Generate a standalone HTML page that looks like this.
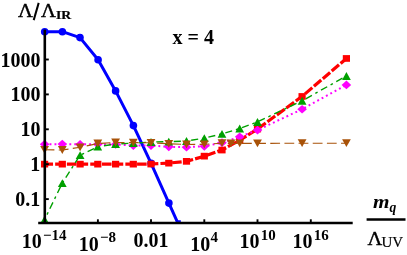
<!DOCTYPE html>
<html><head><meta charset="utf-8"><title>plot</title>
<style>html,body{margin:0;padding:0;background:#fff;width:407px;height:255px;overflow:hidden;font-family:"Liberation Serif",serif}#w{position:absolute;left:0;top:0;width:407px;height:255px;will-change:transform}svg{display:block}</style></head>
<body>
<div id="w">
<svg width="407" height="255" viewBox="0 0 407 255">
<rect width="407" height="255" fill="#fff"/>
<defs><clipPath id="cp"><rect x="38" y="20" width="320" height="203.5"/></clipPath></defs>
<g clip-path="url(#cp)">
<polyline points="44.7,31.7 62.4,31.7 80.0,37.6 98.1,59.7 115.6,90.9 133.4,125.6 151.1,163.4 168.9,203.1 186.7,242.8" fill="none" stroke="#0000ff" stroke-width="3" stroke-linejoin="round"/>
<circle cx="44.7" cy="31.7" r="3.8" fill="#0000ff"/><circle cx="62.4" cy="31.7" r="3.8" fill="#0000ff"/><circle cx="80.0" cy="37.6" r="3.8" fill="#0000ff"/><circle cx="98.1" cy="59.7" r="3.8" fill="#0000ff"/><circle cx="115.6" cy="90.9" r="3.8" fill="#0000ff"/><circle cx="133.4" cy="125.6" r="3.8" fill="#0000ff"/><circle cx="151.1" cy="163.4" r="3.8" fill="#0000ff"/><circle cx="168.9" cy="203.1" r="3.8" fill="#0000ff"/>
<line x1="177" y1="221.2" x2="180.8" y2="221.2" stroke="#0000ff" stroke-width="1.8"/>
<polyline points="44.6,164.2 62.3,164.2 80.1,164.2 97.8,164.2 115.6,164.2 133.3,164.2 151.0,164.0 168.8,163.1 186.5,161.3 204.3,156.2 222.0,150.0 239.7,140.2 257.5,129.0 302.1,96.4 346.4,58.5" fill="none" stroke="#ff0000" stroke-width="3.2" stroke-dasharray="9.6,2.1" stroke-dashoffset="1.15"/>
<rect x="41.0" y="160.8" width="7.2" height="6.7" fill="#ff0000"/><rect x="58.7" y="160.8" width="7.2" height="6.7" fill="#ff0000"/><rect x="76.5" y="160.8" width="7.2" height="6.7" fill="#ff0000"/><rect x="94.2" y="160.8" width="7.2" height="6.7" fill="#ff0000"/><rect x="112.0" y="160.8" width="7.2" height="6.7" fill="#ff0000"/><rect x="129.7" y="160.8" width="7.2" height="6.7" fill="#ff0000"/><rect x="147.4" y="160.7" width="7.2" height="6.7" fill="#ff0000"/><rect x="165.2" y="159.8" width="7.2" height="6.7" fill="#ff0000"/><rect x="182.9" y="158.0" width="7.2" height="6.7" fill="#ff0000"/><rect x="200.7" y="152.8" width="7.2" height="6.7" fill="#ff0000"/><rect x="218.4" y="146.7" width="7.2" height="6.7" fill="#ff0000"/><rect x="236.1" y="136.8" width="7.2" height="6.7" fill="#ff0000"/><rect x="253.9" y="125.7" width="7.2" height="6.7" fill="#ff0000"/><rect x="298.5" y="93.1" width="7.2" height="6.7" fill="#ff0000"/><rect x="342.8" y="55.1" width="7.2" height="6.7" fill="#ff0000"/>
<polyline points="44.6,144.2 62.3,144.1 80.1,144.4 97.8,144.2 115.6,144.4 133.3,145.6 151.0,145.6 168.8,146.8 186.5,147.2 204.3,146.3 222.0,142.7 239.7,136.8 257.5,130.1 302.1,109.2 346.4,84.9" fill="none" stroke="#ff00ff" stroke-width="2" stroke-dasharray="1.9,3.05"/>
<polygon points="39.8,144.2 44.6,139.8 49.4,144.2 44.6,148.5" fill="#ff00ff"/><polygon points="57.5,144.1 62.3,139.8 67.1,144.1 62.3,148.4" fill="#ff00ff"/><polygon points="75.3,144.4 80.1,140.1 84.9,144.4 80.1,148.8" fill="#ff00ff"/><polygon points="93.0,144.2 97.8,139.8 102.6,144.2 97.8,148.5" fill="#ff00ff"/><polygon points="110.8,144.4 115.6,140.1 120.4,144.4 115.6,148.8" fill="#ff00ff"/><polygon points="128.5,145.6 133.3,141.2 138.1,145.6 133.3,149.9" fill="#ff00ff"/><polygon points="146.2,145.6 151.0,141.2 155.8,145.6 151.0,149.9" fill="#ff00ff"/><polygon points="164.0,146.8 168.8,142.5 173.6,146.8 168.8,151.2" fill="#ff00ff"/><polygon points="181.7,147.2 186.5,142.8 191.3,147.2 186.5,151.5" fill="#ff00ff"/><polygon points="199.5,146.3 204.3,142.0 209.1,146.3 204.3,150.7" fill="#ff00ff"/><polygon points="217.2,142.7 222.0,138.3 226.8,142.7 222.0,147.0" fill="#ff00ff"/><polygon points="234.9,136.8 239.7,132.5 244.5,136.8 239.7,141.2" fill="#ff00ff"/><polygon points="252.7,130.1 257.5,125.8 262.3,130.1 257.5,134.4" fill="#ff00ff"/><polygon points="297.3,109.2 302.1,104.9 306.9,109.2 302.1,113.5" fill="#ff00ff"/><polygon points="341.6,84.9 346.4,80.6 351.2,84.9 346.4,89.2" fill="#ff00ff"/>
<polyline points="44.6,219.6 62.3,183.1 80.1,155.2 97.8,146.7 115.6,144.0 133.3,143.2 151.0,142.0 168.8,141.7 186.5,141.0 204.3,138.2 222.0,133.8 239.7,128.6 257.5,121.9 302.1,100.8 346.4,76.0" fill="none" stroke="#00a000" stroke-width="1.4" stroke-dasharray="7.1,3.9,2.6,3.9" stroke-dashoffset="5.5"/>
<polygon points="40.2,223.5 49.0,223.5 44.6,215.7" fill="#00a000"/><polygon points="57.9,187.0 66.7,187.0 62.3,179.2" fill="#00a000"/><polygon points="75.7,159.1 84.5,159.1 80.1,151.2" fill="#00a000"/><polygon points="93.4,150.6 102.2,150.6 97.8,142.8" fill="#00a000"/><polygon points="111.2,147.9 120.0,147.9 115.6,140.1" fill="#00a000"/><polygon points="128.9,147.1 137.7,147.1 133.3,139.2" fill="#00a000"/><polygon points="146.6,145.9 155.4,145.9 151.0,138.1" fill="#00a000"/><polygon points="164.4,145.6 173.2,145.6 168.8,137.8" fill="#00a000"/><polygon points="182.1,144.9 190.9,144.9 186.5,137.1" fill="#00a000"/><polygon points="199.9,142.1 208.7,142.1 204.3,134.2" fill="#00a000"/><polygon points="217.6,137.8 226.4,137.8 222.0,129.9" fill="#00a000"/><polygon points="235.3,132.5 244.1,132.5 239.7,124.6" fill="#00a000"/><polygon points="253.1,125.9 261.9,125.9 257.5,118.0" fill="#00a000"/><polygon points="297.7,104.8 306.5,104.8 302.1,96.8" fill="#00a000"/><polygon points="342.1,80.0 350.8,80.0 346.4,72.0" fill="#00a000"/>
<polyline points="44.6,149.8 62.3,150.0 80.1,147.3 97.8,143.5 115.6,142.5 133.3,142.6 151.0,142.8 168.8,143.8 186.5,144.5 204.3,144.3 222.0,143.2 231.0,143.4 239.7,143.4 257.5,143.4 302.1,143.2 346.4,143.2" fill="none" stroke="#a85208" stroke-width="1.15" stroke-dasharray="9.8,4.35"/>
<polygon points="40.2,145.9 49.0,145.9 44.6,153.8" fill="#a85208"/><polygon points="57.9,146.1 66.7,146.1 62.3,153.9" fill="#a85208"/><polygon points="75.7,143.4 84.5,143.4 80.1,151.2" fill="#a85208"/><polygon points="93.4,139.6 102.2,139.6 97.8,147.4" fill="#a85208"/><polygon points="111.2,138.6 120.0,138.6 115.6,146.4" fill="#a85208"/><polygon points="128.9,138.7 137.7,138.7 133.3,146.5" fill="#a85208"/><polygon points="146.6,138.9 155.4,138.9 151.0,146.8" fill="#a85208"/><polygon points="164.4,139.9 173.2,139.9 168.8,147.8" fill="#a85208"/><polygon points="182.1,140.6 190.9,140.6 186.5,148.4" fill="#a85208"/><polygon points="199.9,140.4 208.7,140.4 204.3,148.2" fill="#a85208"/><polygon points="217.6,139.2 226.4,139.2 222.0,147.1" fill="#a85208"/><polygon points="226.6,139.5 235.4,139.5 231.0,147.3" fill="#a85208"/><polygon points="235.3,139.5 244.1,139.5 239.7,147.3" fill="#a85208"/><polygon points="253.1,139.5 261.9,139.5 257.5,147.3" fill="#a85208"/><polygon points="297.7,139.2 306.5,139.2 302.1,147.1" fill="#a85208"/><polygon points="342.1,139.2 350.8,139.2 346.4,147.1" fill="#a85208"/>
</g>
<g stroke="#000" fill="none">
<line x1="44.8" y1="29.6" x2="44.8" y2="223" stroke-width="2.6"/>
<line x1="38.2" y1="223.1" x2="352.7" y2="223.1" stroke-width="2.5"/>
</g>
<g stroke="#000" stroke-width="1.9">
<line x1="45" y1="59.5" x2="48.8" y2="59.5"/>
<line x1="45" y1="94.4" x2="48.8" y2="94.4"/>
<line x1="45" y1="129.3" x2="48.8" y2="129.3"/>
<line x1="45" y1="164.2" x2="48.8" y2="164.2"/>
<line x1="45" y1="199.1" x2="48.8" y2="199.1"/>
<line x1="97.9" y1="222" x2="97.9" y2="219.3"/>
<line x1="151.0" y1="222" x2="151.0" y2="219.3"/>
<line x1="204.3" y1="222" x2="204.3" y2="219.3"/>
<line x1="257.5" y1="222" x2="257.5" y2="219.3"/>
<line x1="310.8" y1="222" x2="310.8" y2="219.3"/>
</g>
<g font-family="Liberation Serif, serif" font-weight="bold" fill="#000" font-size="20" text-anchor="end">
<text x="40.5" y="67">1000</text>
<text x="40.5" y="101">100</text>
<text x="40.5" y="136">10</text>
<text x="40.3" y="171">1</text>
<text x="40.3" y="206">0.1</text>
</g>
<g font-family="Liberation Serif, serif" font-weight="bold" fill="#000" font-size="20">
<text x="21.7" y="248">10<tspan font-size="15" dy="-8" dx="1.2">−14</tspan></text>
<text x="78.8" y="251">10<tspan font-size="15" dy="-9" dx="1.2">−8</tspan></text>
<text x="133.6" y="247">0.01</text>
<text x="190.3" y="251">10<tspan font-size="15" dy="-9" dx="0.2">4</tspan></text>
<text x="239.6" y="248">10<tspan font-size="15" dy="-8" dx="1.2">10</tspan></text>
<text x="292.5" y="248">10<tspan font-size="15" dy="-8" dx="1.2">16</tspan></text>
<text x="172.6" y="44">x = 4</text>
<text transform="translate(18.0,16.6) scale(1.03,0.97)" font-weight="normal" stroke="#000" stroke-width="0.4">Λ</text>
<text transform="translate(41.0,16.6) scale(1.03,0.97)" font-weight="normal" stroke="#000" stroke-width="0.4">Λ</text>
<text transform="translate(55.9,19.3) scale(1.05,0.98)" font-size="13" stroke="#000" stroke-width="0.25">IR</text>
<text transform="translate(372.9,208) scale(1.06,0.93)" font-style="italic">m</text>
<text transform="translate(389.5,212) scale(0.88,0.98)" font-style="italic" font-size="15.5">q</text>
<text transform="translate(367.5,244.9) scale(1.02,0.99)" font-weight="normal" stroke="#000" stroke-width="0.4">Λ</text>
<text transform="translate(381.4,247.3) scale(1.0,1.0)" font-size="15" font-weight="normal" stroke="#000" stroke-width="0.2">UV</text>
</g>
<line x1="33.7" y1="20.1" x2="38.7" y2="2.9" stroke="#000" stroke-width="2.0"/>
<line x1="366.6" y1="219.4" x2="405.5" y2="219.4" stroke="#000" stroke-width="2.5"/>
</svg>
</div>
</body></html>
